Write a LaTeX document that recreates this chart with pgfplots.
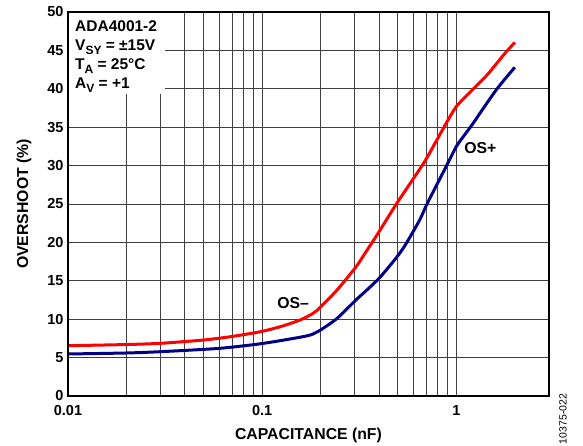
\documentclass[border=0pt]{standalone}
\usepackage{fontspec}
\setmainfont{Liberation Sans}
\usepackage{pgfplots}
\pgfplotsset{compat=1.18}
\definecolor{adiblue}{RGB}{0,0,135}
\definecolor{adired}{RGB}{255,0,0}
\newcommand{\sub}[1]{\raisebox{-4pt}{\fontsize{12}{12}\selectfont #1}}
\begin{document}
\begin{tikzpicture}
\useasboundingbox (-68pt,-50pt) rectangle (515pt,396pt);
\begin{axis}[
  at={(0,0)}, anchor=south west,
  scale only axis, width=481pt, height=384pt,
  xmode=log, xmin=0.01, xmax=3, ymin=0, ymax=50,
  xtick={0.01,0.1,1}, xticklabels={0.01,0.1,1},
  ytick={0,5,...,50},
  grid=both,
  major grid style={black!75, line width=0.9pt},
  minor grid style={black!75, line width=0.9pt},
  major tick length=0pt, minor tick length=0pt,
  axis line style={line width=1.6pt},
  /pgf/number format/assume math mode=true,
  ticklabel style={font=\bfseries\fontsize{14.5}{14.5}\selectfont},
  xticklabel style={yshift=-6pt},
  yticklabel style={xshift=-1pt},
  xlabel={CAPACITANCE (nF)}, ylabel={OVERSHOOT (\%)},
  label style={font=\bfseries\fontsize{15.8}{15.8}\selectfont},
  xlabel style={at={(axis description cs:0.5,0)}, anchor=center, yshift=-39pt},
  ylabel style={at={(axis description cs:-0.0915,0.5)}, anchor=center},
]
\addplot[adired, line width=3pt, smooth, tension=0.4] coordinates {
(0.01,6.55) (0.02,6.7) (0.03,6.86) (0.05,7.29) (0.07,7.75) (0.098,8.37)
(0.125,9.05) (0.157,9.9) (0.184,10.8) (0.2,11.6) (0.243,13.8) (0.304,16.8)
(0.347,19.0) (0.39,20.95) (0.494,25.1) (0.678,30.3) (0.78,33.0) (0.895,35.7)
(1.0,37.7) (1.18,39.6) (1.44,41.8) (1.75,44.4) (2.0,46.05)
};
\addplot[adiblue, line width=3pt, smooth, tension=0.4] coordinates {
(0.01,5.47) (0.02,5.6) (0.03,5.77) (0.06,6.2) (0.098,6.8) (0.145,7.5)
(0.177,7.94) (0.2,8.6) (0.243,10.1) (0.304,12.5) (0.353,14.0) (0.406,15.5)
(0.494,18.1) (0.55,19.8) (0.65,23.0) (0.706,25.0) (0.895,30.1) (1.0,32.5)
(1.07,33.55) (1.228,35.6) (1.33,36.9) (1.62,40.0) (2.0,42.8)
};
\fill[white] (rel axis cs:0,1) rectangle (rel axis cs:0.2017,0.786);
\draw[line width=1.6pt] (rel axis cs:0,0) rectangle (rel axis cs:1,1);
\node[anchor=north west, align=left, inner sep=0pt,
      font=\bfseries\fontsize{15.5}{19}\selectfont]
  at (rel axis cs:0,1) [xshift=7pt, yshift=-8pt]
  {ADA4001-2\\V\sub{SY} = ±15V\\T\sub{A} = 25°C\\A\sub{V} = +1};
\node[font=\bfseries\fontsize{15.8}{15.8}\selectfont] at (axis cs:0.1445,12.1) {OS–};
\node[font=\bfseries\fontsize{15.8}{15.8}\selectfont] at (axis cs:1.33,32.25) {OS+};
\end{axis}
\node[rotate=90, font=\fontsize{10.5}{10.5}\selectfont] at (495pt,-23pt) {10375-022};
\end{tikzpicture}
\end{document}
